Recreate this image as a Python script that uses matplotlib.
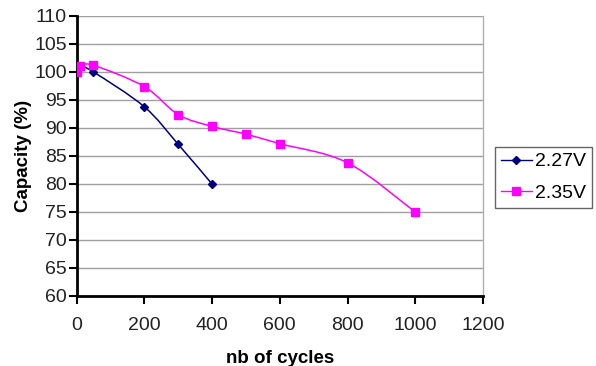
import numpy as np
import matplotlib.pyplot as plt
from matplotlib.path import Path
from matplotlib.patches import PathPatch

plt.rcParams['font.family'] = ['Liberation Sans', 'DejaVu Sans']

# cycles / capacity readings
cycles_227 = [0, 10, 50, 200, 300, 400]
cap_227 = [100, 101, 100, 93.8, 87.1, 80]

cycles_235 = [0, 10, 50, 200, 300, 400, 500, 600, 800, 1000]
cap_235 = [100, 101, 101.2, 97.4, 92.4, 90.3, 88.9, 87.2, 83.8, 75]

xticks = [0, 200, 400, 600, 800, 1000, 1200]
yticks = list(range(60, 111, 5))


def smooth_path(x, y):
    # Excel-style smoothed line: Catmull-Rom segments as cubic Bezier
    pts = np.column_stack([x, y]).astype(float)
    verts = [pts[0]]
    codes = [Path.MOVETO]
    n = len(pts)
    for i in range(n - 1):
        p0 = pts[max(i - 1, 0)]
        p1 = pts[i]
        p2 = pts[i + 1]
        p3 = pts[min(i + 2, n - 1)]
        c1 = p1 + (p2 - p0) / 6.0
        c2 = p2 - (p3 - p1) / 6.0
        verts += [c1, c2, p2]
        codes += [Path.CURVE4] * 3
    return Path(verts, codes)


fig = plt.figure(figsize=(5.96, 3.66), dpi=100)
ax = fig.add_axes([76.5 / 596, 1 - 296 / 366, (483 - 76.5) / 596, 280 / 366])

for xs, ys, col in [(cycles_227, cap_227, '#000080'), (cycles_235, cap_235, '#ff00ff')]:
    ax.add_patch(PathPatch(smooth_path(xs, ys), facecolor='none', edgecolor=col, lw=1.1, zorder=3))

ax.plot(cycles_227, cap_227, ls='none', marker='D', ms=4.5, color='#000080', zorder=4)
ax.plot(cycles_235, cap_235, ls='none', marker='s', ms=6, color='#ff00ff', zorder=4)

# legend proxies
ax.plot([], [], '-', marker='D', ms=4.5, color='#000080', lw=1, label='2.27V')
ax.plot([], [], '-', marker='s', ms=6, color='#ff00ff', lw=1, label='2.35V')

ax.set_xlim(0, 1200)
ax.set_ylim(60, 110)
ax.set_xticks(xticks)
ax.set_yticks(yticks)
ax.yaxis.grid(True, color='#a0a0a0', lw=1)
ax.set_axisbelow(True)

ax.spines['right'].set_color('#b0b0b0')
ax.spines['right'].set_linewidth(1)
ax.spines['top'].set_visible(False)
for s in ['left', 'bottom']:
    ax.spines[s].set_linewidth(2)
    ax.spines[s].set_color('black')

ax.tick_params(axis='both', direction='out', length=6, width=1.5, labelsize=14, colors='black')
ax.tick_params(axis='x', pad=9)
ax.tick_params(axis='y', pad=1)
for lbl in ax.get_xticklabels() + ax.get_yticklabels():
    lbl.set_color('#222222')

ax.set_xlabel('nb of cycles', fontsize=13.5, fontweight='bold', labelpad=11.5)
ax.set_ylabel('Capacity (%)', fontsize=13.5, fontweight='bold', labelpad=1.5)

leg = fig.legend(loc='upper left', bbox_to_anchor=(495 / 596, 1 - 147 / 366),
                 fontsize=14, frameon=True, fancybox=False, handlelength=1.6,
                 handletextpad=0.15, borderpad=0.3, labelspacing=0.7,
                 borderaxespad=0)
leg.get_frame().set_edgecolor('#404040')
leg.get_frame().set_linewidth(1)

fig.savefig('out.png', dpi=100)
